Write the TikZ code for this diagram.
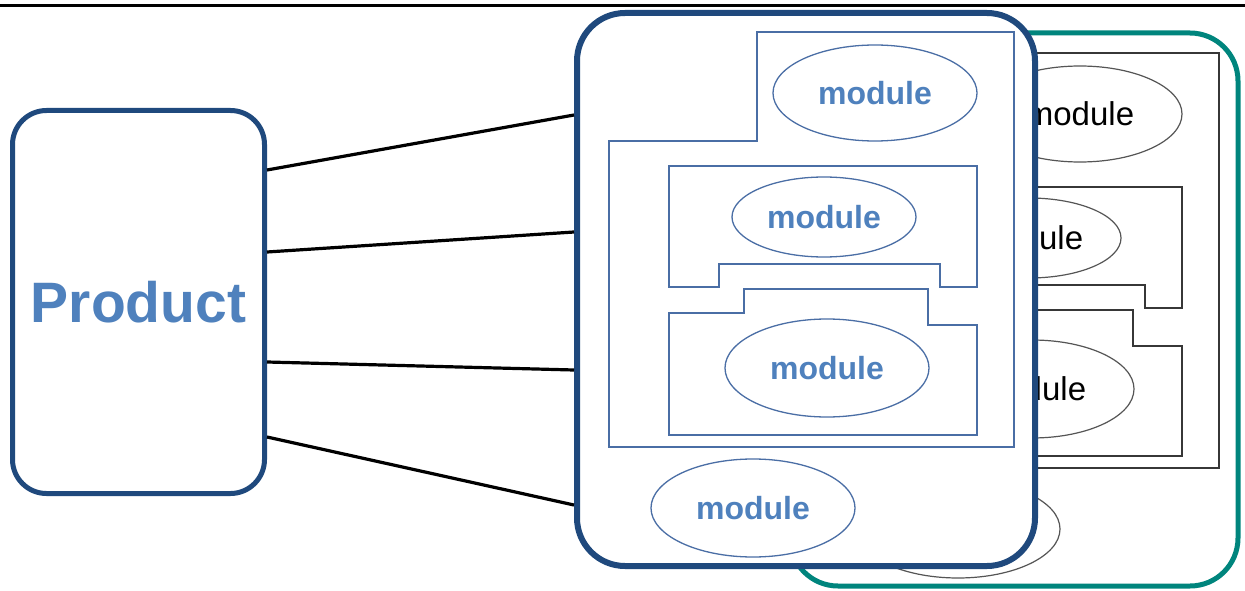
\documentclass[tikz,border=0pt]{standalone}
\usepackage{fontspec}
\setmainfont{Liberation Sans}
\usepackage{tikz}
\usetikzlibrary{shapes.geometric}
\definecolor{frameblue}{RGB}{31,73,125}
\definecolor{textblue}{RGB}{79,129,189}
\definecolor{partblue}{RGB}{74,110,165}
\definecolor{tealframe}{RGB}{0,133,125}
\definecolor{partgrey}{RGB}{55,55,55}
\tikzset{%
  link/.style = {draw=black,line width=3.2pt},
  panel/.style = {rectangle,draw,fill=white,rounded corners=48pt,
        inner sep=0pt},
  part/.style = {draw=partblue,line width=1.5pt},
  mod/.style = {ellipse,draw=partblue,line width=1.3pt,inner sep=0pt,
        text=textblue,font=\fontsize{32}{34}\selectfont\bfseries}
}
\newcommand{\modparts}[1]{%
  \draw[part] (757,32) -- (1014,32) -- (1014,447) -- (609,447) -- (609,141) -- (757,141) -- cycle;
  \draw[part] (669,166) -- (977,166) -- (977,287) -- (940,287) -- (940,264) -- (719,264) -- (719,287) -- (669,287) -- cycle;
  \draw[part] (744,289) -- (928,289) -- (928,325) -- (977,325) -- (977,435) -- (669,435) -- (669,313) -- (744,313) -- cycle;
  \node[mod,minimum width=204pt,minimum height=96pt] (#1m1) at (875,93) {module};
  \node[mod,minimum width=184pt,minimum height=80pt] (#1m2) at (824,217) {module};
  \node[mod,minimum width=204pt,minimum height=98pt] (#1m3) at (827,368) {module};
  \node[mod,minimum width=204pt,minimum height=98pt] (#1m4) at (753,508) {module};
}
\begin{document}
\begin{tikzpicture}[x=1pt,y=-1pt]
\useasboundingbox (0,0) rectangle (1245,591);
\draw[line width=3pt] (0,6) -- (1245,6);
\node[panel,draw=tealframe,line width=5pt,minimum width=448pt,
      minimum height=553pt] (back) at (1014,309.5) {};
\begin{scope}[shift={(205,21)},
  part/.style={draw=partgrey,line width=1.8pt},
  mod/.style={ellipse,draw=partgrey!85,line width=1.2pt,inner sep=0pt,
        text=black,font=\fontsize{33}{35}\selectfont}]
\modparts{b}
\end{scope}
\node[panel,draw=frameblue,line width=6pt,minimum width=458pt,
      minimum height=553pt] (front) at (806,289.5) {};
\modparts{f}
\node[panel,draw=frameblue,line width=5pt,rounded corners=34pt,
      minimum width=252pt,minimum height=383pt,text=textblue,
      font=\fontsize{57}{60}\selectfont\bfseries] (prod) at (138.5,302) {Product};
\draw[link] (prod.east |- 0,170) -- (front.west |- 0,115);
\draw[link] (prod.east |- 0,252) -- (front.west |- 0,232);
\draw[link] (prod.east |- 0,362) -- (front.west |- 0,370);
\draw[link] (prod.east |- 0,437) -- (front.west |- 0,505);
\end{tikzpicture}
\end{document}
